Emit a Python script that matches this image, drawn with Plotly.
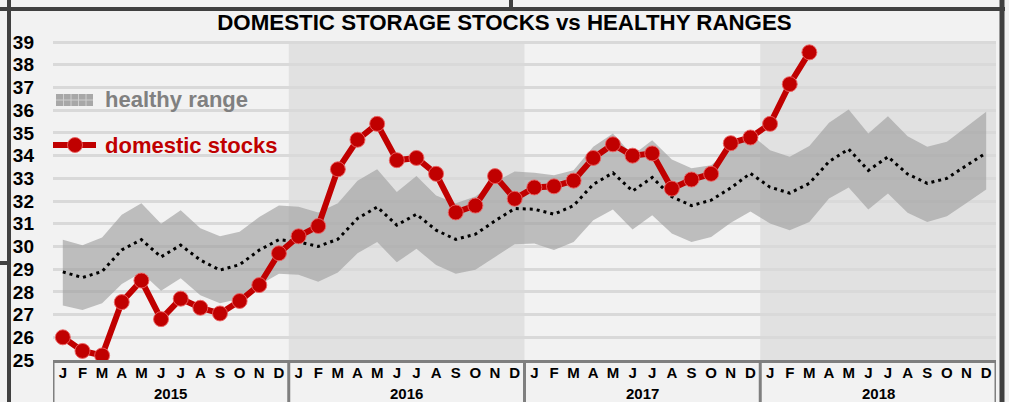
import plotly.graph_objects as go

# ---------------- data ----------------
years = ["2015", "2016", "2017", "2018"]
months = ["J", "F", "M", "A", "M", "J", "J", "A", "S", "O", "N", "D"]

domestic_stocks = [
    26.0, 25.4, 25.2, 27.55, 28.5, 26.8, 27.7, 27.3, 27.05, 27.6, 28.3, 29.7,
    30.45, 30.9, 33.4, 34.7, 35.4, 33.8, 33.9, 33.2, 31.5, 31.8, 33.1, 32.1,
    32.6, 32.65, 32.9, 33.9, 34.5, 34.0, 34.1, 32.55, 32.95, 33.2, 34.55, 34.8,
    35.4, 37.15, 38.55,
]

range_upper = [
    30.3, 30.05, 30.4, 31.4, 31.9, 31.0, 31.6, 30.8, 30.45, 30.65, 31.3, 31.8,
    31.75, 31.5, 31.9, 32.9, 33.4, 32.4, 33.1, 32.25, 31.9, 32.2, 32.85, 33.3,
    33.25, 33.14, 33.36, 34.39, 34.98, 34.02, 34.68, 33.83, 33.44, 33.58, 34.32, 34.95,
    34.24, 33.95, 34.42, 35.45, 36.03, 34.98, 35.74, 34.86, 34.39, 34.61, 35.27, 35.93,
]

range_lower = [
    27.4, 27.2, 27.5, 28.35, 28.85, 28.05, 28.6, 27.85, 27.5, 27.7, 28.3, 28.8,
    28.75, 28.45, 28.85, 29.7, 30.2, 29.3, 29.9, 29.18, 28.8, 28.98, 29.54, 30.1,
    30.13, 29.84, 30.2, 31.16, 31.63, 30.75, 31.38, 30.57, 30.2, 30.42, 31.04, 31.54,
    31.01, 30.72, 31.08, 32.11, 32.6, 31.63, 32.33, 31.48, 31.08, 31.33, 31.92, 32.51,
]

range_mid = [
    28.88, 28.63, 28.9, 29.85, 30.3, 29.54, 30.06, 29.4, 28.96, 29.2, 29.84, 30.3,
    30.2, 30.0, 30.32, 31.23, 31.74, 30.94, 31.42, 30.72, 30.31, 30.54, 31.13, 31.67,
    31.64, 31.42, 31.8, 32.74, 33.24, 32.44, 33.04, 32.19, 31.8, 32.04, 32.58, 33.22,
    32.61, 32.35, 32.78, 33.74, 34.29, 33.35, 33.95, 33.19, 32.78, 33.0, 33.57, 34.12,
]

title_text = "DOMESTIC STORAGE STOCKS vs HEALTHY RANGES"
legend_range = "healthy range"
legend_stocks = "domestic stocks"

# ---------------- positions on the month axis ----------------
n = len(years) * len(months)
x_all = list(range(n))
x_stocks = x_all[:len(domestic_stocks)]
tick_text = [m for _ in years for m in months]

FONT = "Liberation Sans, Arial, sans-serif"
RED = "#c00000"
BG = "#f2f2f2"
AXC = "#7f7f7f"

# plot-area pixel geometry (for decorations)
W, H = 1009, 402
L, R, T, B = 53, 13, 41, 42
PW, PH = W - L - R, H - T - B


def px(xp):
    return (xp - L) / PW


def py(yp):
    return (H - B - yp) / PH


fig = go.Figure()

# healthy range band
fig.add_trace(go.Scatter(
    x=x_all, y=range_lower, mode="lines",
    line=dict(width=0, color="rgba(0,0,0,0)"), showlegend=False, hoverinfo="skip"))
fig.add_trace(go.Scatter(
    x=x_all, y=range_upper, mode="lines", fill="tonexty",
    fillcolor="rgba(160,160,160,0.65)",
    line=dict(width=0, color="rgba(0,0,0,0)"), showlegend=False, name=legend_range))

# dotted midline
fig.add_trace(go.Scatter(
    x=x_all, y=range_mid, mode="lines",
    line=dict(color="black", width=3, dash="3px,4px"), showlegend=False))

# domestic stocks
fig.add_trace(go.Scatter(
    x=x_stocks, y=domestic_stocks, mode="lines+markers",
    line=dict(color=RED, width=6),
    marker=dict(size=15, color=RED, line=dict(color="rgba(235,100,100,0.9)", width=1)),
    showlegend=False, name=legend_stocks))

shapes = []
nm = len(months)
# shaded alternate years (2016, 2018)
for i, yv in enumerate(years):
    if i % 2 == 1:
        shapes.append(dict(type="rect", xref="x", yref="paper",
                           x0=i * nm - 0.5, x1=(i + 1) * nm - 0.5, y0=0, y1=1,
                           fillcolor="#e1e1e1", line=dict(width=0), layer="below"))

# year dividers in the axis box
for i in range(len(years) + 1):
    shapes.append(dict(type="line", xref="x", yref="paper",
                       x0=i * nm - 0.5, x1=i * nm - 0.5, y0=py(361), y1=py(410),
                       line=dict(color=AXC, width=3), layer="above"))

# legend: healthy range symbol
shapes.append(dict(type="rect", xref="paper", yref="paper",
                   x0=px(56), x1=px(93), y0=py(106), y1=py(94),
                   fillcolor="#a8a8a8", line=dict(width=0), layer="above"))
for xv in (63.5, 71, 78.5, 86):
    shapes.append(dict(type="line", xref="paper", yref="paper",
                       x0=px(xv), x1=px(xv), y0=py(106), y1=py(94),
                       line=dict(color="#cfcfcf", width=1), layer="above"))
shapes.append(dict(type="line", xref="paper", yref="paper",
                   x0=px(56), x1=px(93), y0=py(100), y1=py(100),
                   line=dict(color="#cfcfcf", width=1), layer="above"))
# legend: domestic stocks symbol
shapes.append(dict(type="line", xref="paper", yref="paper",
                   x0=px(53), x1=px(96), y0=py(145), y1=py(145),
                   line=dict(color=RED, width=6), layer="above"))
shapes.append(dict(type="circle", xref="paper", yref="paper",
                   xsizemode="pixel", ysizemode="pixel",
                   xanchor=px(75), yanchor=py(145),
                   x0=-7.5, x1=7.5, y0=-7.5, y1=7.5,
                   fillcolor=RED, line=dict(color="rgba(235,100,100,0.9)", width=1),
                   layer="above"))

# outer frame remnants (dashboard borders)
FR = "#404040"
shapes += [
    dict(type="line", xref="paper", yref="paper", x0=px(0), x1=px(1005), y0=py(9), y1=py(9),
         line=dict(color=FR, width=4), layer="above"),
    dict(type="line", xref="paper", yref="paper", x0=px(9), x1=px(9), y0=py(0), y1=py(402),
         line=dict(color=FR, width=4), layer="above"),
    dict(type="line", xref="paper", yref="paper", x0=px(1002), x1=px(1002), y0=py(0), y1=py(402),
         line=dict(color=FR, width=5), layer="above"),
    dict(type="line", xref="paper", yref="paper", x0=px(511), x1=px(511), y0=py(0), y1=py(9),
         line=dict(color=FR, width=4), layer="above"),
    dict(type="line", xref="paper", yref="paper", x0=px(0), x1=px(9), y0=py(263), y1=py(263),
         line=dict(color=FR, width=4), layer="above"),
]

annotations = [
    dict(xref="paper", yref="paper", x=px(103), y=py(100), xanchor="left", yanchor="middle",
         text=legend_range, showarrow=False,
         font=dict(family=FONT, size=22, color="#808080", weight="bold")),
    dict(xref="paper", yref="paper", x=px(103), y=py(145), xanchor="left", yanchor="middle",
         text=legend_stocks, showarrow=False,
         font=dict(family=FONT, size=22, color=RED, weight="bold")),
]
for i, yv in enumerate(years):
    annotations.append(dict(xref="x", yref="paper", x=i * nm + (nm - 1) / 2, y=py(394),
                            xanchor="center", yanchor="middle", text=yv, showarrow=False,
                            font=dict(family=FONT, size=15, color="black", weight="bold")))

fig.update_layout(
    width=W, height=H,
    margin=dict(l=L, r=R, t=T, b=B, pad=0),
    paper_bgcolor=BG, plot_bgcolor=BG,
    showlegend=False,
    title=dict(text=title_text, x=0.5, xref="container", xanchor="center",
               y=1 - 22 / H, yref="container", yanchor="middle",
               font=dict(family=FONT, size=22.3, color="black", weight="bold")),
    shapes=shapes,
    annotations=annotations,
    xaxis=dict(range=[-0.5, n - 0.5], tickmode="array", tickvals=x_all, ticktext=tick_text,
               showgrid=False, zeroline=False,
               showline=True, linecolor=AXC, linewidth=3,
               tickfont=dict(family=FONT, size=15, color="black", weight="bold"),
               ticks="", ticklabelstandoff=-3, tickangle=0),
    yaxis=dict(range=[25, 39.05], dtick=1, tick0=25,
               showgrid=True, gridcolor="#d9d9d9", gridwidth=3,
               zeroline=False, showline=False, ticks="",
               ticklabelstandoff=18,
               tickfont=dict(family=FONT, size=19, color="black", weight="bold")),
)

fig.write_html("out.html", post_script="document.body.style.margin='0';",
               config={"displayModeBar": False})
